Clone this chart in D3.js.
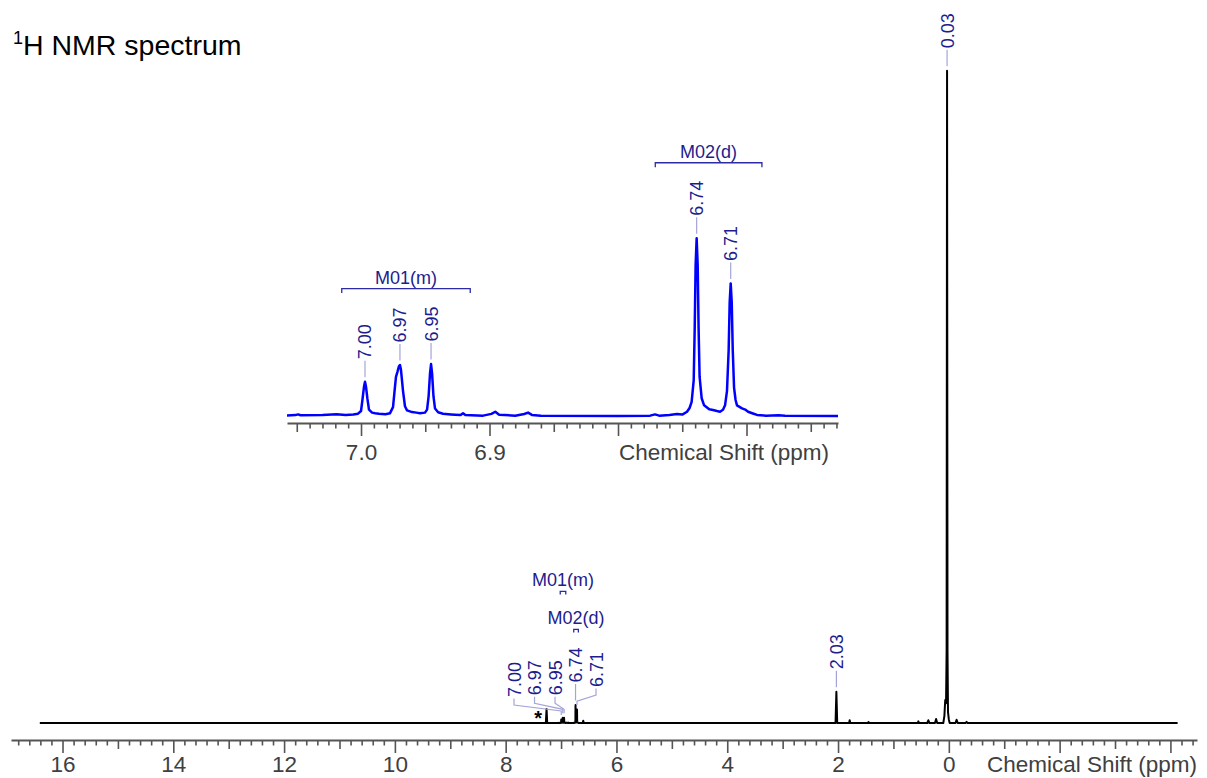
<!DOCTYPE html>
<html>
<head>
<meta charset="utf-8">
<script src="https://cdn.jsdelivr.net/npm/d3@7"></script>
<style>
  body { margin: 0; background: #fff; }
  svg { display: block; font-family: "Liberation Sans", Arial, Helvetica, sans-serif; }
</style>
</head>
<body>
<svg id="chart" width="1207" height="778"></svg>
<script>
// spectrum outside the aromatic window, [ppm, intensity] (6.74 line = 100)
const mainTrace = [
  [16.41, 0], [7.275, 0], [7.262, 78], [7.250, 0],
  [6.61, 0], [6.60, 12], [6.59, 0],
  [2.045, 0], [2.03, 174], [2.015, 0],
  [1.80, 0], [1.79, 15], [1.78, 0], [1.46, 0], [1.45, 6], [1.44, 0],
  [0.56, 0], [0.55, 9], [0.54, 0], [0.39, 0], [0.37, 15], [0.35, 0],
  [0.25, 0], [0.23, 22], [0.21, 0],
  [0.10, 0], [0.08, 40], [0.065, 128], [0.05, 110], [0.04, 400],
  [0.032, 3624], [0.024, 400], [0.015, 60], [0.0, 20], [-0.015, 0],
  [-0.12, 0], [-0.14, 18], [-0.16, 0], [-0.30, 0], [-0.32, 6], [-0.34, 0],
  [-4.13, 0]
];

// aromatic window shown in the inset, [ppm, intensity]
const aromaticTrace = [
  [7.0576, 0.3], [7.0510, 0.5], [7.0490, 0.9], [7.0470, 0.4], [7.0300, 0.5], [7.0190, 1.0],
  [7.0120, 0.6], [7.0060, 0.9], [7.0023, 1.3], [7.0000, 2.8], [6.9988, 9.6], [6.9977, 16.4],
  [6.9969, 19.3], [6.9961, 16.4], [6.9950, 9.6], [6.9938, 3.6], [6.9914, 1.9], [6.9890, 1.6],
  [6.9860, 1.3], [6.9810, 1.0], [6.9774, 1.6], [6.9751, 5.0], [6.9739, 14.0], [6.9728, 22.0],
  [6.9716, 25.0], [6.9705, 28.0], [6.9697, 28.7], [6.9689, 26.0], [6.9673, 14.0], [6.9658, 5.5],
  [6.9642, 3.2], [6.9603, 2.2], [6.9570, 1.9], [6.9541, 1.6], [6.9502, 1.9], [6.9486, 3.6],
  [6.9474, 11.0], [6.9463, 24.0], [6.9455, 29.2], [6.9447, 24.0], [6.9436, 11.0], [6.9424, 4.2],
  [6.9400, 2.1], [6.9362, 1.3], [6.9300, 0.9], [6.9268, 0.7], [6.9225, 0.5], [6.9206, 1.5],
  [6.9188, 0.5], [6.9050, 0.2], [6.8985, 1.2], [6.8955, 2.4], [6.8925, 0.7], [6.8800, 0.2],
  [6.8730, 1.1], [6.8700, 1.9], [6.8670, 0.6], [6.8600, 0.1], [6.8000, 0.0], [6.7750, 0.2],
  [6.7712, 0.9], [6.7680, 0.2], [6.7600, 0.6], [6.7541, 1.1], [6.7500, 0.8], [6.7463, 2.4],
  [6.7443, 4.5], [6.7427, 8.0], [6.7411, 20.0], [6.7403, 50.0], [6.7396, 85.0], [6.7388, 100],
  [6.7380, 85.0], [6.7373, 50.0], [6.7365, 22.0], [6.7349, 10.0], [6.7330, 6.0], [6.7315, 5.2],
  [6.7290, 3.8], [6.7261, 3.4], [6.7230, 2.8], [6.7206, 2.4], [6.7183, 3.5], [6.7167, 6.0],
  [6.7152, 14.0], [6.7139, 37.0], [6.7131, 64.0], [6.7123, 74.6], [6.7115, 64.0], [6.7107, 37.0],
  [6.7097, 16.0], [6.7085, 9.0], [6.7074, 6.0], [6.7035, 4.3], [6.7010, 3.6], [6.6988, 2.4],
  [6.6950, 1.4], [6.6918, 0.6], [6.6850, 0.2], [6.6750, 0.4], [6.6700, 0.2], [6.6288, 0.0]
];

// peak picking
const peakText = ["7.00", "6.97", "6.95", "6.74", "6.71", "2.03", "0.03"];
const peakPpm = [6.9969, 6.9697, 6.9455, 6.7388, 6.7123, 2.03, 0.032];
const peakHeight = [19.3, 28.7, 29.2, 100, 74.6, 174, 3624];

// multiplets
const multName = ["M01(m)", "M02(d)"];
const multFrom = [7.015, 6.771];
const multTo = [6.915, 6.688];
const multMembers = [["7.00", "6.97", "6.95"], ["6.74", "6.71"]];

// solvent residual marked with *
const solventPpm = [7.26];

const svg = d3.select("#chart");
const FONT = '"Liberation Sans", Arial, Helvetica, sans-serif';
const labelColor = "#1d1d8e";
const leaderColor = "#a4a4d8";
const bracketColor = "#2b2ba6";
const axisColor = "#555";
const labelFs = 18;

// title
const title = svg.append("text").attr("x", 13).attr("y", 55).attr("fill", "#000");
title.append("tspan").attr("font-size", 18).attr("dy", -11.5).text("1");
title.append("tspan").attr("font-size", 28.5).attr("dy", 11.5).text("H NMR spectrum");

function drawPanel(cfg) {
  const g = svg.append("g");
  const x = d3.scaleLinear().domain(cfg.domain).range(cfg.xRange);
  const y = d3.scaleLinear().domain([0, cfg.yMax]).range([cfg.baseY, cfg.topY]);

  // axis: minor, medium and major ticks
  const lo = d3.min(cfg.domain), hi = d3.max(cfg.domain);
  const idx = d3.range(Math.ceil(lo / cfg.step - 1e-9), Math.floor(hi / cfg.step + 1e-9) + 1);
  const val = i => +(i * cfg.step).toFixed(4);
  const minorVals = idx.filter(i => i % 5 !== 0).map(val);
  const midVals = idx.filter(i => i % 5 === 0 && i % 10 !== 0).map(val);
  const majorVals = idx.filter(i => i % 10 === 0).map(val);

  const ax = g.append("g").attr("transform", `translate(0,${cfg.axisY})`);
  ax.append("g").call(d3.axisBottom(x).tickValues(minorVals).tickSize(5.5).tickSizeOuter(0).tickFormat(""));
  ax.append("g").call(d3.axisBottom(x).tickValues(midVals).tickSize(9).tickSizeOuter(0).tickFormat(""));
  const maj = ax.append("g").call(d3.axisBottom(x).tickValues(majorVals).tickSize(13).tickSizeOuter(0).tickFormat(cfg.fmt));
  ax.selectAll("g > .domain").filter((d, i) => i > 0).remove();
  ax.selectAll(".domain").attr("stroke", axisColor).attr("stroke-width", 2);
  ax.selectAll(".tick line").attr("stroke", axisColor).attr("stroke-width", 1.6);
  maj.attr("font-family", FONT).attr("font-size", cfg.axisFs);
  maj.selectAll("text").attr("y", cfg.labelDy).attr("dy", null).attr("fill", "#404040");

  const axTitle = g.append("text")
    .attr("x", cfg.titleX).attr("y", cfg.axisY + cfg.labelDy)
    .attr("text-anchor", "end").attr("font-size", cfg.axisFs).attr("fill", "#404040")
    .text("Chemical Shift (ppm)");
  const tb = axTitle.node().getBBox();
  // tick labels that run into the axis title are dropped
  maj.selectAll("text").each(function () {
    const b = this.getBBox();
    const bx = this.getCTM().e + b.x;
    if (bx + b.width > tb.x - 6) d3.select(this).remove();
  });

  // spectrum
  const line = d3.line().x(d => x(d[0])).y(d => y(d[1]));
  g.append("path").datum(cfg.trace)
    .attr("d", line).attr("fill", "none")
    .attr("stroke", cfg.color).attr("stroke-width", cfg.lw)
    .attr("stroke-linejoin", "round");

  // peak labels, laid out so that neighbours keep a minimum spacing
  const gap = 20.5;
  let labels = peakText.map((t, i) => ({
    text: t, px: x(peakPpm[i]), top: y(peakHeight[i]), h: peakHeight[i]
  })).filter((d, i) => peakPpm[i] <= hi && peakPpm[i] >= lo);
  labels.sort((a, b) => a.px - b.px);
  const clusters = [];
  labels.forEach(d => {
    const c = clusters[clusters.length - 1];
    if (c && d.px - c[c.length - 1].px < gap) c.push(d); else clusters.push([d]);
  });
  clusters.forEach(c => {
    const a = c.indexOf(d3.greatest(c, d => d.h));
    c[a].lx = c[a].px;
    for (let i = a - 1; i >= 0; i--) c[i].lx = Math.min(c[i].px, c[i + 1].lx - gap);
    for (let i = a + 1; i < c.length; i++) c[i].lx = Math.max(c[i].px, c[i - 1].lx + gap);
  });

  labels.forEach(d => {
    d.tb = d.top - 22.5;
    const t = g.append("text")
      .attr("transform", `translate(${d.lx + 0.36 * labelFs},${d.tb}) rotate(-90)`)
      .attr("font-size", labelFs).attr("fill", labelColor).text(d.text);
    d.len = t.node().getComputedTextLength();
    let pts;
    if (Math.abs(d.lx - d.px) < 0.5) {
      pts = [[d.px, d.tb + 1.5], [d.px, d.top - 4.5]];
    } else {
      pts = [[d.lx, d.tb + 1.5], [d.lx, d.tb + 8], [d.px, d.top - 8.5], [d.px, d.top - 4.5]];
    }
    g.append("path").attr("d", d3.line()(pts))
      .attr("fill", "none").attr("stroke", leaderColor).attr("stroke-width", 1.2);
  });

  // multiplet brackets
  const placed = [];
  const mults = multName.map((name, i) => {
    const mem = labels.filter(d => multMembers[i].includes(d.text));
    return {
      name, x1: x(multFrom[i]), x2: x(multTo[i]), mem,
      y: d3.min(mem, d => d.tb - d.len) - 18
    };
  }).filter(m => m.mem.length);
  mults.sort((a, b) => a.y - b.y);
  mults.forEach(m => {
    const cx = (m.x1 + m.x2) / 2;
    const t = g.append("text").attr("x", cx).attr("text-anchor", "middle")
      .attr("font-size", labelFs).attr("fill", labelColor).text(m.name);
    const w = t.node().getComputedTextLength();
    m.l = cx - w / 2; m.r = cx + w / 2;
    placed.forEach(p => {
      if (m.r > p.l && m.l < p.r && m.y > p.y - 38) m.y = p.y - 38;
    });
    t.attr("y", m.y - 5);
    const tick = cfg.bracketTick;
    g.append("path")
      .attr("d", `M${m.x1},${m.y + tick}V${m.y}H${m.x2}V${m.y + tick}`)
      .attr("fill", "none").attr("stroke", bracketColor).attr("stroke-width", 1.3);
    placed.push(m);
  });

  return { g, x, y };
}

// full spectrum
const fullTrace = mainTrace.concat(aromaticTrace).sort((a, b) => b[0] - a[0]);
const main = drawPanel({
  domain: [16.93, -4.48], xRange: [11, 1197],
  yMax: 3624, baseY: 723, topY: 70.7,
  axisY: 740, labelDy: 31.5, axisFs: 22.5, titleX: 1197, step: 0.2,
  fmt: d3.format("d"), trace: fullTrace, color: "#000", lw: 2, bracketTick: 3
});

// solvent marker
solventPpm.forEach(p => {
  main.g.append("text")
    .attr("x", main.x(p) - 8.5).attr("y", main.y(0) + 2)
    .attr("text-anchor", "middle").attr("font-size", 20).attr("font-weight", "bold")
    .attr("fill", "#000").text("*");
});

// expansion of the aromatic region
drawPanel({
  domain: [7.0576, 6.6288], xRange: [287, 838],
  yMax: 100, baseY: 416, topY: 238.3,
  axisY: 423, labelDy: 37, axisFs: 22.5, titleX: 829, step: 0.01,
  fmt: d3.format(".1f"), trace: aromaticTrace, color: "#0000ff", lw: 2.5, bracketTick: 4.5
});
</script>
</body>
</html>
